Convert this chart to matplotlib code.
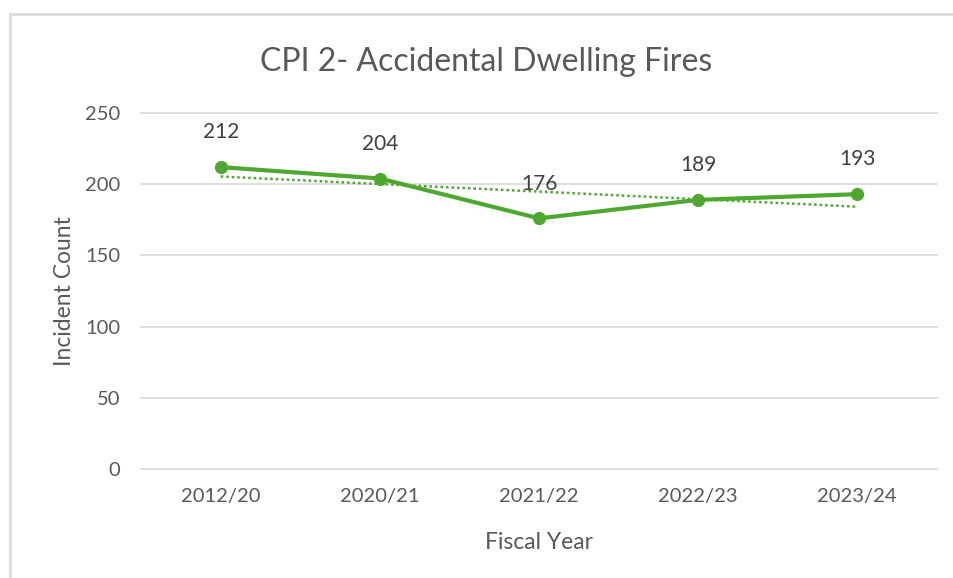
import numpy as np
import matplotlib.pyplot as plt
from matplotlib.lines import Line2D

# Datos del grafico
years = ['2012/20', '2020/21', '2021/22', '2022/23', '2023/24']
fires = [212, 204, 176, 189, 193]
y_ticks = [0, 50, 100, 150, 200, 250]

green = '#4ea72e'
grey = '#595959'

plt.rcParams['font.family'] = ['Lato', 'DejaVu Sans']

fig = plt.figure(figsize=(9.54, 5.78), dpi=100)
ax = fig.add_axes([0.148, 0.1886, 0.834, 0.6159])

x = np.arange(len(years))
ax.plot(x, fires, color=green, linewidth=3, marker='o', markersize=8.5, zorder=3)

# Linea de tendencia lineal (como en Excel)
coef = np.polyfit(x, fires, 1)
ax.plot(x, np.polyval(coef, x), color=green, linewidth=1.8, linestyle=(0, (1, 1.2)), zorder=2)

for xi, v in zip(x, fires):
    ax.annotate(str(v), (xi, v), xytext=(0, 25), textcoords='offset points',
                ha='center', va='center', fontsize=15, color='#404040')

ax.set_xlim(-0.5, len(years) - 0.5)
ax.set_ylim(0, 250)
ax.set_yticks(y_ticks)
ax.set_xticks(x)
ax.set_xticklabels(years)
ax.tick_params(length=0, labelsize=14.5, labelcolor=grey, pad=14)
ax.tick_params(axis='y', pad=15)
ax.grid(axis='y', color='#d9d9d9', linewidth=1.2)
for gl in ax.get_ygridlines():
    gl.set_clip_on(False)
ax.set_axisbelow(True)
for s in ax.spines.values():
    s.set_visible(False)

ax.set_ylabel('Incident Count', fontsize=16.5, color=grey, labelpad=7)
ax.set_xlabel('Fiscal Year', fontsize=16.5, color=grey, labelpad=19)
fig.text(0.51, 0.893, 'CPI 2- Accidental Dwelling Fires', ha='center', va='center',
         fontsize=23, color=grey)

# Bordes de la hoja de calculo
fig.add_artist(Line2D([0.011, 1], [0.975, 0.975], color='#dcdcdc', linewidth=2))
fig.add_artist(Line2D([0.011, 0.011], [0, 0.975], color='#dcdcdc', linewidth=2))

fig.savefig('out.png', dpi=100)
